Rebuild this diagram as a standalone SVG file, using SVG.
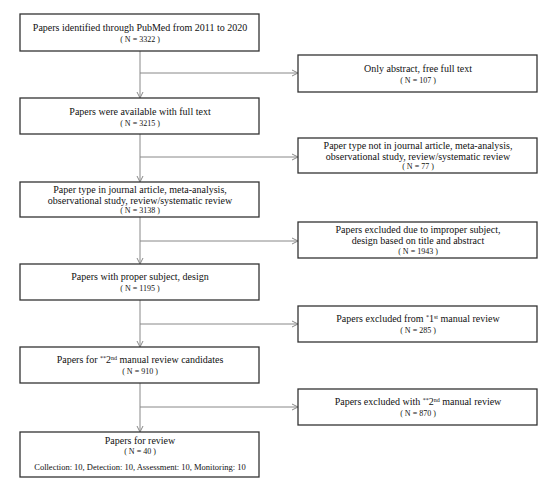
<svg xmlns="http://www.w3.org/2000/svg" width="550" height="484" viewBox="0 0 550 484">
<style>
.box{fill:#fff;stroke:#333;stroke-width:1.3}
.t{font-family:"Liberation Serif","Times New Roman",serif;font-size:10px;fill:#111;text-anchor:middle}
.n{font-size:8px}
.c{font-size:8.5px}
.con{fill:none;stroke:#888;stroke-width:1}
.sup{font-size:6px}
</style>
<defs>
<marker id="ah" markerWidth="8" markerHeight="8" refX="7" refY="4" orient="auto" markerUnits="userSpaceOnUse">
<path d="M1,1 L7,4 L1,7" fill="none" stroke="#888" stroke-width="1"/>
</marker>
</defs>
<rect width="550" height="484" fill="#fff"/>
<g id="connectors">
<path class="con" d="M140,51 V98" marker-end="url(#ah)"/>
<path class="con" d="M140,73 H298" marker-end="url(#ah)"/>
<path class="con" d="M140,134 V182" marker-end="url(#ah)"/>
<path class="con" d="M140,157 H298" marker-end="url(#ah)"/>
<path class="con" d="M140,217 V264" marker-end="url(#ah)"/>
<path class="con" d="M140,241 H298" marker-end="url(#ah)"/>
<path class="con" d="M140,300 V347" marker-end="url(#ah)"/>
<path class="con" d="M140,324 H298" marker-end="url(#ah)"/>
<path class="con" d="M140,383 V432" marker-end="url(#ah)"/>
<path class="con" d="M140,407 H298" marker-end="url(#ah)"/>
</g>
<g id="b1">
<rect class="box" x="20" y="14" width="239" height="37"/>
<text class="t" x="140" y="31">Papers identified through PubMed from 2011 to 2020</text>
<text class="t n" x="140" y="42">( N = 3322 )</text>
</g>
<g id="b2">
<rect class="box" x="20" y="98" width="239" height="36"/>
<text class="t" x="140" y="115">Papers were available with full text</text>
<text class="t n" x="140" y="126">( N = 3215 )</text>
</g>
<g id="b3">
<rect class="box" x="20" y="182" width="239" height="35"/>
<text class="t" x="140" y="193">Paper type in journal article, meta-analysis,</text>
<text class="t" x="140" y="204">observational study, review/systematic review</text>
<text class="t n" x="140" y="213">( N = 3138 )</text>
</g>
<g id="b4">
<rect class="box" x="20" y="264" width="239" height="36"/>
<text class="t" x="140" y="280">Papers with proper subject, design</text>
<text class="t n" x="140" y="291">( N = 1195 )</text>
</g>
<g id="b5">
<rect class="box" x="20" y="347" width="239" height="36"/>
<text class="t" x="140" y="363">Papers for <tspan class="sup" dy="-3">**</tspan><tspan dy="3">2</tspan><tspan class="sup" dy="-3">nd</tspan><tspan dy="3"> manual review candidates</tspan></text>
<text class="t n" x="140" y="374">( N = 910 )</text>
</g>
<g id="b6">
<rect class="box" x="20" y="432" width="239" height="45"/>
<text class="t" x="140" y="444">Papers for review</text>
<text class="t n" x="140" y="454">( N = 40 )</text>
<text class="t c" x="140" y="470">Collection: 10, Detection: 10, Assessment: 10,  Monitoring: 10</text>
</g>
<g id="r1">
<rect class="box" x="298" y="55" width="239" height="37"/>
<text class="t" x="418" y="72">Only abstract, free full text</text>
<text class="t n" x="418" y="83">( N = 107 )</text>
</g>
<g id="r2">
<rect class="box" x="298" y="138" width="239" height="35"/>
<text class="t" x="418" y="149">Paper type not in journal article, meta-analysis,</text>
<text class="t" x="418" y="160">observational study, review/systematic review</text>
<text class="t n" x="418" y="169">( N = 77 )</text>
</g>
<g id="r3">
<rect class="box" x="298" y="222" width="239" height="36"/>
<text class="t" x="418" y="233">Papers excluded due to improper subject,</text>
<text class="t" x="418" y="244">design based on title and abstract</text>
<text class="t n" x="418" y="254">( N = 1943 )</text>
</g>
<g id="r4">
<rect class="box" x="298" y="306" width="239" height="36"/>
<text class="t" x="418" y="322">Papers excluded from <tspan class="sup" dy="-3">*</tspan><tspan dy="3">1</tspan><tspan class="sup" dy="-3">st</tspan><tspan dy="3"> manual review</tspan></text>
<text class="t n" x="418" y="333">( N = 285 )</text>
</g>
<g id="r5">
<rect class="box" x="298" y="389" width="239" height="36"/>
<text class="t" x="418" y="405">Papers excluded with <tspan class="sup" dy="-3">**</tspan><tspan dy="3">2</tspan><tspan class="sup" dy="-3">nd</tspan><tspan dy="3"> manual review</tspan></text>
<text class="t n" x="418" y="416">( N = 870 )</text>
</g>
</svg>
